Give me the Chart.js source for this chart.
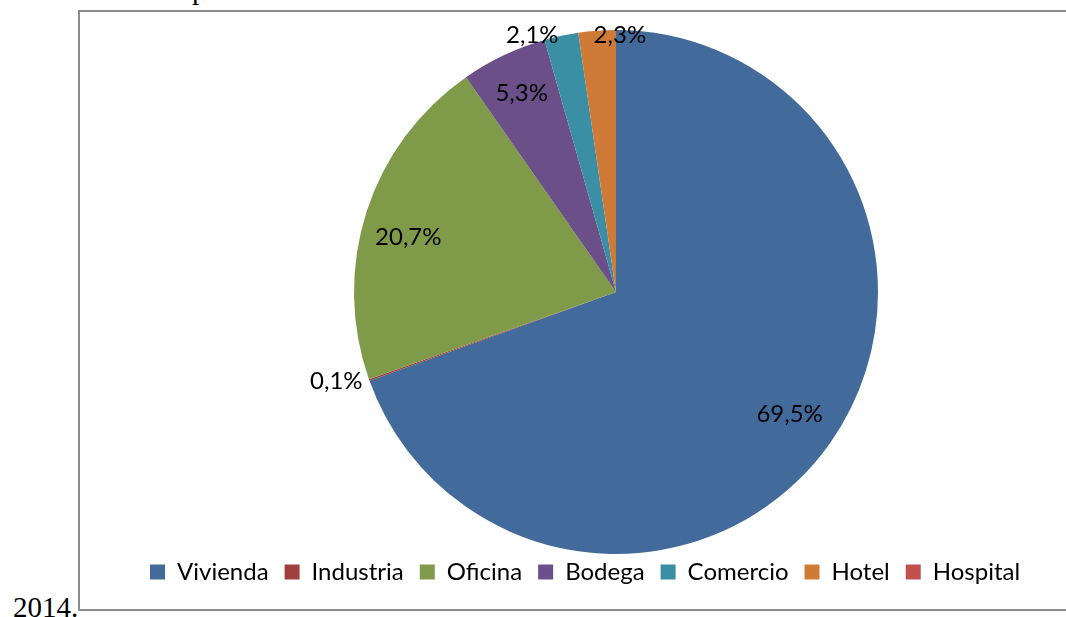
<!DOCTYPE html>
<html>
<head>
<meta charset="utf-8">
<script src="https://cdn.jsdelivr.net/npm/chart.js@4/dist/chart.umd.min.js"></script>
<style>
  html, body { margin: 0; padding: 0; background: #fff; overflow: hidden; width: 1066px; height: 617px; }
  .doc { position: absolute; font-family: "Liberation Serif", "DejaVu Serif", serif; color: #000; }
  #topText { left: 192px; top: -27px; font-size: 29px; }
  #yearText { left: 13px; top: 591px; font-size: 29px; }
  #box {
    position: absolute; left: 78px; top: 10px; width: 1100px; height: 601px;
    border: 2px solid #8c8c8c; box-sizing: border-box;
  }
  #wrap { position: absolute; left: 0; top: 0; width: 1042px; height: 597px; }
</style>
</head>
<body>
<div class="doc" id="topText">p</div>
<div class="doc" id="yearText">2014.</div>
<div id="box"><div id="wrap"><canvas id="chart"></canvas></div></div>
<script>
// values (percent)
const categories = ['Vivienda', 'Industria', 'Oficina', 'Bodega', 'Comercio', 'Hotel', 'Hospital'];
const shares = [69.5, 0.1, 20.7, 5.3, 2.1, 2.3, 0];
const labelTexts = ['69,5%', '0,1%', '20,7%', '5,3%', '2,1%', '2,3%', ''];
const sliceColors = ['#426B9C', '#A13F3C', '#7F9A48', '#6A4F89', '#3B8FA5', '#CF7B37', '#C0504D'];

// label placement: radial factor and angle nudge (degrees)
const labelRadius = [0.81, 1.12, 0.82, 0.84, 1.03, 0.98, 0];
const labelNudge = [0, 2, -3, 0, -6, 5, 0];

const FONT = 'Lato, "Open Sans", sans-serif';

const sliceLabels = {
  id: 'sliceLabels',
  afterDatasetsDraw(chart) {
    const ctx = chart.ctx;
    const meta = chart.getDatasetMeta(0);
    ctx.save();
    ctx.font = '24px ' + FONT;
    ctx.fillStyle = '#000';
    ctx.textAlign = 'center';
    ctx.textBaseline = 'middle';
    meta.data.forEach((arc, i) => {
      if (!labelTexts[i]) return;
      const p = arc.getProps(['x', 'y', 'startAngle', 'endAngle', 'outerRadius'], true);
      const a = (p.startAngle + p.endAngle) / 2 + labelNudge[i] * Math.PI / 180;
      const r = p.outerRadius * labelRadius[i];
      ctx.fillText(labelTexts[i], p.x + Math.cos(a) * r, p.y + Math.sin(a) * r);
    });
    ctx.restore();
  }
};

new Chart(document.getElementById('chart'), {
  type: 'pie',
  data: {
    labels: categories,
    datasets: [{
      data: shares,
      backgroundColor: sliceColors,
      borderWidth: 0,
      radius: 262,
    }],
  },
  options: {
    responsive: true,
    maintainAspectRatio: false,
    animation: false,
    layout: { padding: { left: 54, right: 24, top: 28, bottom: 15 } },
    plugins: {
      tooltip: { enabled: false },
      legend: {
        position: 'bottom',
        align: 'start',
        labels: {
          boxWidth: 15,
          boxHeight: 15,
          padding: 16,
          color: '#000',
          font: { family: FONT, size: 24 },
        },
      },
    },
  },
  plugins: [sliceLabels],
});
</script>
</body>
</html>
